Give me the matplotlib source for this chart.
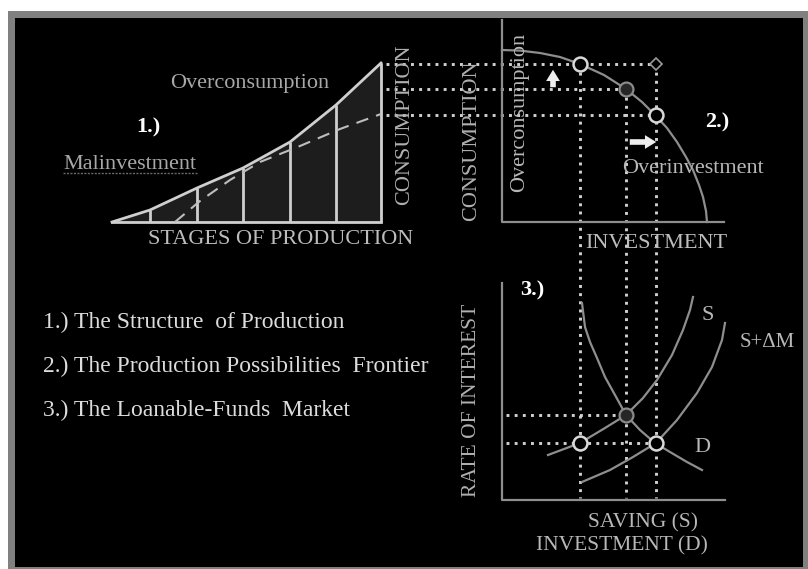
import matplotlib
matplotlib.use("Agg")
import matplotlib.pyplot as plt
from matplotlib.patches import Rectangle, Polygon, FancyArrowPatch

# ---------------- data (canvas units, y down) -------------
# Panel 1: structure of production
stage_x = [112, 150, 197, 243, 290, 336, 381]
stage_top = [222, 210, 188, 168, 142, 105, 63]
stage_base = 222
dashed_x = [175, 200, 230, 260, 300, 340, 381]
dashed_y = [222, 201, 180, 162, 146, 129, 114]

# Panel 2: production possibilities frontier
ppf_x = [502, 520, 540, 560, 580, 604, 626, 642, 656, 667, 677, 686, 693, 699, 703, 706, 707]
ppf_y = [50, 50.6, 53, 57, 64, 75, 89, 102, 116, 128, 142, 157, 170, 185, 197, 211, 222]
ppf_pts_x = [580, 626, 656]
ppf_pts_y = [64, 89, 115]
ppf_pts_filled = [False, True, False]

# Panel 3: loanable funds market
d_x = [582, 585, 590, 597, 605, 615, 626, 640, 655, 670, 687, 702]
d_y = [303, 327, 342, 358, 377, 395, 415, 430, 443, 452, 462, 470]
s_x = [548, 580, 605, 626, 643, 657, 672, 683, 690, 693]
s_y = [455, 443, 428, 415, 398, 380, 355, 330, 310, 297]
sm_x = [582, 610, 633, 656, 677, 697, 712, 722, 725]
sm_y = [482, 470, 457, 443, 420, 393, 367, 340, 323]
lf_pts_x = [580, 626, 656]
lf_pts_y = [443, 415, 443]
lf_pts_filled = [False, True, False]

list_items = ["1.) The Structure  of Production",
              "2.) The Production Possibilities  Frontier",
              "3.) The Loanable-Funds  Market"]

# ---------------- figure ----------------
W, H = 808, 569
fig = plt.figure(figsize=(8.08, 5.69), dpi=100, facecolor="white")
ax = fig.add_axes([0, 0, 1, 1])
ax.set_xlim(0, W)
ax.set_ylim(H, 0)
ax.axis("off")

SERIF = ["Liberation Serif", "DejaVu Serif"]
FS = 16

ax.add_patch(Rectangle((8, 11), 800, 560, facecolor="#808080", edgecolor="none", zorder=0))
ax.add_patch(Rectangle((15, 18), 788, 549, facecolor="black", edgecolor="none", zorder=0))

# ---- Panel 1 ----
poly = list(zip(stage_x, stage_top)) + [(stage_x[-1], stage_base), (stage_x[0], stage_base)]
ax.add_patch(Polygon(poly, closed=True, facecolor="#1d1d1d", edgecolor="none", zorder=1))
lc1 = "#cfcfcf"
ax.plot(stage_x, stage_top, color=lc1, lw=2, zorder=3, solid_joinstyle="round")
ax.plot([stage_x[0], stage_x[-1]], [stage_base, stage_base], color=lc1, lw=2, zorder=3)
ax.vlines(stage_x[1:], stage_top[1:], stage_base, color=lc1, lw=2, zorder=3)
ax.plot(dashed_x, dashed_y, color="#bdbdbd", lw=1.5, ls=(0, (6, 4)), zorder=3)

ax.text(250, 83, "Overconsumption", color="#a8a8a8", fontsize=FS, family=SERIF,
        ha="center", va="center")
ax.text(148, 127, "1.)", color="white", fontsize=FS, family=SERIF, fontweight="bold",
        ha="center", va="center")
ax.text(130, 164, "Malinvestment", color="#a8a8a8", fontsize=FS, family=SERIF,
        ha="center", va="center")
ax.plot([63, 197], [173, 173], color="#6a6a6a", lw=1, ls=(0, (1.5, 1)), zorder=2)
ax.text(281, 239, "STAGES OF PRODUCTION", color="#bdbdbd", fontsize=FS, family=SERIF,
        ha="center", va="center")
ax.text(405, 125, "CONSUMPTION", color="#b0b0b0", fontsize=FS, family=SERIF,
        ha="center", va="center", rotation=90)

# ---- connecting dotted lines ----
dot_kw = dict(color="#d0d0d0", lw=2.1, ls=(0, (1, 1.8)), dash_capstyle="butt", zorder=2)
ax.plot([386, ppf_pts_x[2]], [ppf_pts_y[0], ppf_pts_y[0]], **dot_kw)
ax.plot([386, ppf_pts_x[1]], [ppf_pts_y[1], ppf_pts_y[1]], **dot_kw)
ax.plot([386, ppf_pts_x[2]], [ppf_pts_y[2], ppf_pts_y[2]], **dot_kw)
ax.plot([ppf_pts_x[0], ppf_pts_x[0]], [ppf_pts_y[0], 498], **dot_kw)
ax.plot([ppf_pts_x[1], ppf_pts_x[1]], [ppf_pts_y[1], 498], **dot_kw)
ax.plot([ppf_pts_x[2], ppf_pts_x[2]], [ppf_pts_y[0], 498], **dot_kw)
ax.plot([506, lf_pts_x[1]], [lf_pts_y[1], lf_pts_y[1]], **dot_kw)
ax.plot([506, lf_pts_x[2]], [lf_pts_y[0], lf_pts_y[0]], **dot_kw)

# ---- Panel 2 ----
axc = "#8e8e8e"
ax.plot([502, 502, 724], [20, 222, 222], color=axc, lw=1.6, zorder=3)
ax.plot(ppf_x, ppf_y, color="#8e8e8e", lw=1.6, zorder=3)
for x, y, f in zip(ppf_pts_x, ppf_pts_y, ppf_pts_filled):
    if f:
        ax.plot(x, y, "o", ms=10, mfc="#262626", mec="#8a8a8a", mew=1.6, zorder=5)
    else:
        ax.plot(x, y, "o", ms=10, mfc="black", mec="#d8d8d8", mew=1.8, zorder=5)
ax.plot(ppf_pts_x[2], ppf_pts_y[0], "D", ms=6, mfc="black", mec="#9a9a9a", mew=1.2, zorder=5)

arr_kw = dict(arrowstyle="simple,head_width=1.1,head_length=0.9,tail_width=0.45",
              mutation_scale=9, color="#eeeeee", zorder=6, lw=0)
ax.add_patch(FancyArrowPatch((553, 90), (553, 67), **arr_kw))
ax.add_patch(FancyArrowPatch((627, 142), (659, 142), **arr_kw))

ax.text(472, 141, "CONSUMPTION", color="#b0b0b0", fontsize=FS, family=SERIF,
        ha="center", va="center", rotation=90)
ax.text(520, 112, "Overconsumption", color="#b8b8b8", fontsize=FS, family=SERIF,
        ha="center", va="center", rotation=90, zorder=4)
ax.text(693, 168, "Overinvestment", color="#b8b8b8", fontsize=FS, family=SERIF,
        ha="center", va="center", zorder=4)
ax.text(717, 122, "2.)", color="white", fontsize=FS, family=SERIF, fontweight="bold",
        ha="center", va="center")
ax.text(656, 243, "INVESTMENT", color="#bdbdbd", fontsize=FS, family=SERIF,
        ha="center", va="center", zorder=4)

# ---- Panel 3 ----
ax.plot([502, 502, 725], [283, 500, 500], color=axc, lw=1.6, zorder=3)
ax.plot(d_x, d_y, color="#8e8e8e", lw=1.6, zorder=3)
ax.plot(s_x, s_y, color="#8e8e8e", lw=1.6, zorder=3)
ax.plot(sm_x, sm_y, color="#8e8e8e", lw=1.6, zorder=3)
for x, y, f in zip(lf_pts_x, lf_pts_y, lf_pts_filled):
    if f:
        ax.plot(x, y, "o", ms=10, mfc="#262626", mec="#8a8a8a", mew=1.6, zorder=5)
    else:
        ax.plot(x, y, "o", ms=10, mfc="black", mec="#d8d8d8", mew=1.8, zorder=5)

ax.text(532, 290, "3.)", color="white", fontsize=FS, family=SERIF, fontweight="bold",
        ha="center", va="center")
ax.text(472, 400, "RATE OF INTEREST", color="#b0b0b0", fontsize=FS - 0.5, family=SERIF,
        ha="center", va="center", rotation=90)
ax.text(708, 315, "S", color="#b8b8b8", fontsize=FS, family=SERIF, ha="center", va="center")
ax.text(767, 342, "S+\u0394M", color="#b8b8b8", fontsize=FS - 1, family=SERIF,
        ha="center", va="center")
ax.text(702, 447, "D", color="#b8b8b8", fontsize=FS, family=SERIF, ha="center", va="center")
ax.text(643, 523, "SAVING (S)", color="#b8b8b8", fontsize=FS - 0.5, family=SERIF,
        ha="center", va="center")
ax.text(622, 546, "INVESTMENT (D)", color="#b8b8b8", fontsize=FS - 0.5, family=SERIF,
        ha="center", va="center")

# ---- list ----
for i, t in enumerate(list_items):
    ax.text(43, 322 + 44 * i, t, color="#dcdcdc", fontsize=17, family=SERIF,
            ha="left", va="center")

fig.savefig("out.png", dpi=100, facecolor="white")
